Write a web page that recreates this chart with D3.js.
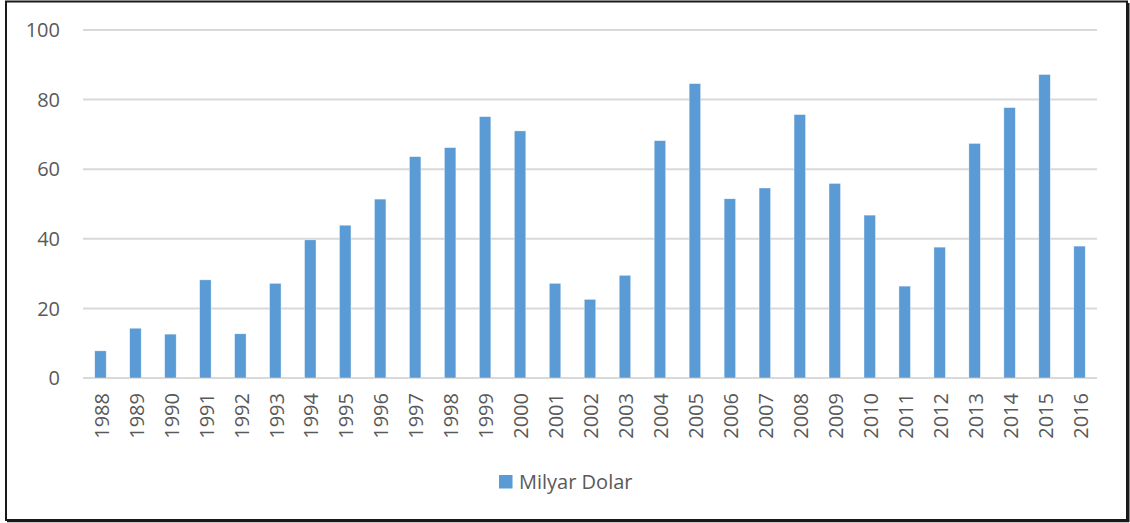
<!DOCTYPE html>
<html>
<head>
<meta charset="utf-8">
<script src="https://cdn.jsdelivr.net/npm/d3@7"></script>
<style>
  body { margin: 0; background: #fff; }
  text { font-family: "Open Sans", "Liberation Sans", sans-serif; fill: #595959; }
</style>
</head>
<body>
<div id="chart"></div>
<script>
const width = 1130;
const height = 523;

const years = ["1988","1989","1990","1991","1992","1993","1994","1995","1996","1997",
  "1998","1999","2000","2001","2002","2003","2004","2005","2006","2007",
  "2008","2009","2010","2011","2012","2013","2014","2015","2016"];
const values = [7.8, 14.3, 12.6, 28.2, 12.7, 27.2, 39.7, 43.9, 51.4, 63.6,
  66.2, 75.1, 71.0, 27.2, 22.6, 29.5, 68.2, 84.6, 51.5, 54.6,
  75.7, 55.9, 46.8, 26.4, 37.6, 67.4, 77.7, 87.2, 37.9];
const yTicks = [0, 20, 40, 60, 80, 100];
const seriesName = "Milyar Dolar";

const barColor = "#5b9bd5";
const gridColor = "#d9d9d9";

const svg = d3.select("#chart").append("svg")
  .attr("width", width)
  .attr("height", height);

// outer frame
svg.append("rect")
  .attr("x", 6).attr("y", 1.5)
  .attr("width", 1121).attr("height", 518.5)
  .attr("fill", "#fff")
  .attr("stroke", "#1a1a1a")
  .attr("stroke-width", 2);
svg.append("line")
  .attr("x1", 1128.5).attr("x2", 1128.5).attr("y1", 3).attr("y2", 522)
  .attr("stroke", "#1a1a1a").attr("stroke-width", 2);
svg.append("line")
  .attr("x1", 7).attr("x2", 1129).attr("y1", 521.5).attr("y2", 521.5)
  .attr("stroke", "#1a1a1a").attr("stroke-width", 1.5);

const x = d3.scaleBand()
  .domain(years)
  .range([83, 1097])
  .paddingInner(0.672)
  .paddingOuter(0.336);

const y = d3.scaleLinear()
  .domain([0, 100])
  .range([378, 30]);

// gridlines
svg.append("g")
  .selectAll("line")
  .data(yTicks)
  .join("line")
  .attr("x1", 83).attr("x2", 1097)
  .attr("y1", d => y(d)).attr("y2", d => y(d))
  .attr("stroke", gridColor)
  .attr("stroke-width", 2);

// y labels
svg.append("g")
  .selectAll("text")
  .data(yTicks)
  .join("text")
  .attr("x", 60)
  .attr("y", d => y(d))
  .attr("dy", "0.36em")
  .attr("text-anchor", "end")
  .style("font-size", "20px")
  .text(d => d);

// bars
svg.append("g")
  .selectAll("rect")
  .data(values)
  .join("rect")
  .attr("x", (d, i) => x(years[i]))
  .attr("y", d => y(d))
  .attr("width", x.bandwidth())
  .attr("height", d => y(0) - y(d))
  .attr("fill", barColor)
  .attr("stroke", "#ffffff")
  .attr("stroke-opacity", 0.6)
  .attr("stroke-width", 0.6);

// x labels (rotated)
svg.append("g")
  .selectAll("text")
  .data(years)
  .join("text")
  .attr("transform", d => `translate(${x(d) + x.bandwidth() / 2 + 1}, 393) rotate(-90)`)
  .attr("dy", "0.36em")
  .attr("text-anchor", "end")
  .style("font-size", "20px")
  .text(d => d);

// legend
const legend = svg.append("g").attr("transform", "translate(499, 475)");
legend.append("rect")
  .attr("width", 13.5).attr("height", 13.5)
  .attr("fill", barColor);
legend.append("text")
  .attr("x", 20)
  .attr("y", 7)
  .attr("dy", "0.36em")
  .style("font-size", "20px")
  .text(seriesName);
</script>
</body>
</html>
